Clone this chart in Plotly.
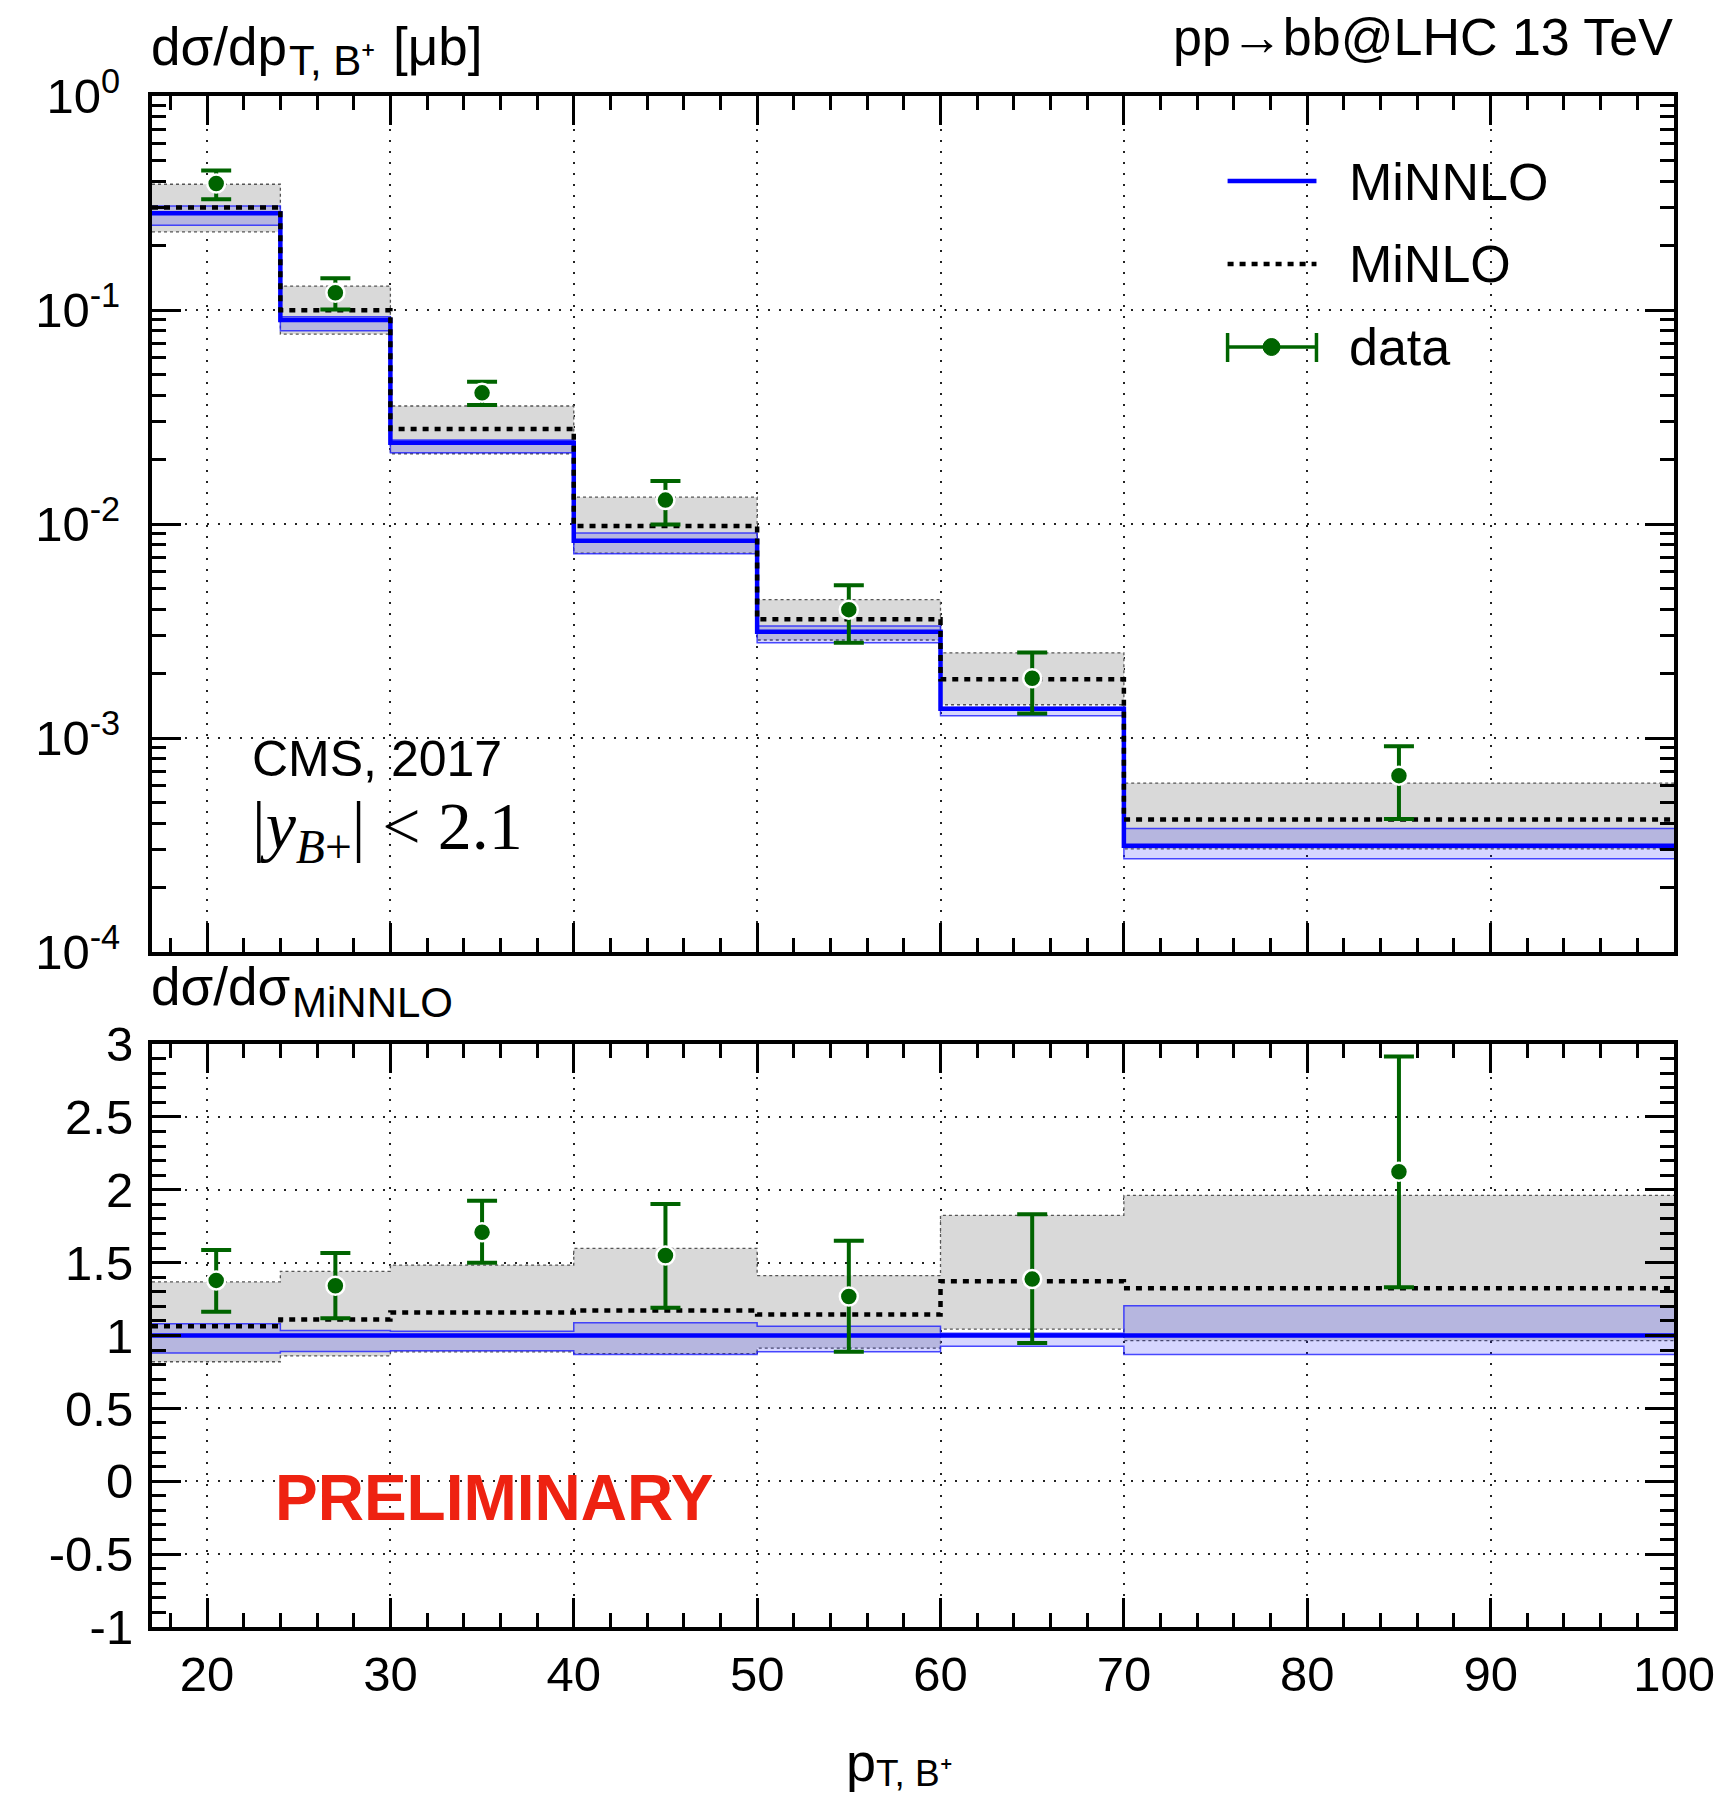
import plotly.graph_objects as go

# pT bins of the B+ meson [GeV]
bin_edges = [17, 24, 30, 40, 50, 60, 70, 100]
bin_centres = [20.5, 27, 35, 45, 55, 65, 85]

# MiNNLO prediction dσ/dpT [μb/GeV] and its uncertainty band
minnlo = [0.283, 0.0898, 0.0240, 0.00835, 0.00314, 0.00137, 0.000314]
minnlo_lo = [0.249, 0.0799, 0.0215, 0.00726, 0.00279, 0.00127, 0.000273]
minnlo_hi = [0.306, 0.0929, 0.0247, 0.00908, 0.00334, 0.00139, 0.000378]

# MiNLO prediction and its uncertainty band
minlo = [0.301, 0.0997, 0.0278, 0.00978, 0.00359, 0.00188, 0.000416]
minlo_lo = [0.232, 0.0772, 0.0213, 0.00731, 0.00287, 0.00143, 0.000303]
minlo_hi = [0.387, 0.1293, 0.0356, 0.01334, 0.00443, 0.00250, 0.000616]

# CMS 2017 measurement with total uncertainty
data = [0.390, 0.1205, 0.0410, 0.01293, 0.00398, 0.00190, 0.000667]
data_lo = [0.329, 0.1005, 0.0360, 0.00994, 0.00279, 0.00130, 0.000418]
data_hi = [0.449, 0.1406, 0.0462, 0.01588, 0.00518, 0.00251, 0.000915]

# axis ticks
x_ticks = [20, 30, 40, 50, 60, 70, 80, 90, 100]
y_log_ticks = [1e-4, 1e-3, 1e-2, 1e-1, 1]
y_log_text = ["10<sup>-4</sup>", "10<sup>-3</sup>", "10<sup>-2</sup>", "10<sup>-1</sup>", "10<sup>0</sup>"]
y_ratio_ticks = [-1, -0.5, 0, 0.5, 1, 1.5, 2, 2.5, 3]
y_ratio_text = ["-1", "-0.5", "0", "0.5", "1", "1.5", "2", "2.5", "3"]

FONT = "Liberation Sans, Arial, Helvetica, sans-serif"
SERIF = "Liberation Serif, Times New Roman, serif"
BLUE = "#0000ff"
GREEN = "#006400"
GREY_FILL = "#d9d9d9"
BLUE_FILL = "rgba(0,0,255,0.16)"

# page geometry (pixels) used to place free text in paper coordinates
W, H = 1727, 1801
PL, PR, PT, PB = 152, 1676, 96, 1627


def xp(px):
    return (px - PL) / (PR - PL)


def yp(py):
    return (PB - py) / (PB - PT)


def step(vals):
    return list(vals) + [vals[-1]]


def ratio(vals):
    return [v / m for v, m in zip(vals, minnlo)]


fig = go.Figure()


def add_panel(xa, ya, nnlo, nnlo_lo, nnlo_hi, nlo, nlo_lo, nlo_hi, dat, dat_lo, dat_hi):
    # MiNLO uncertainty band
    fig.add_trace(go.Scatter(x=bin_edges, y=step(nlo_hi), mode="lines", line_shape="hv",
                             line=dict(color="#555555", width=1.3, dash="3px,3px"),
                             xaxis=xa, yaxis=ya, hoverinfo="skip"))
    fig.add_trace(go.Scatter(x=bin_edges, y=step(nlo_lo), mode="lines", line_shape="hv",
                             line=dict(color="#555555", width=1.3, dash="3px,3px"),
                             fill="tonexty", fillcolor=GREY_FILL,
                             xaxis=xa, yaxis=ya, hoverinfo="skip"))
    # MiNNLO uncertainty band
    fig.add_trace(go.Scatter(x=bin_edges, y=step(nnlo_hi), mode="lines", line_shape="hv",
                             line=dict(color="rgba(30,30,255,0.8)", width=1.5),
                             xaxis=xa, yaxis=ya, hoverinfo="skip"))
    fig.add_trace(go.Scatter(x=bin_edges, y=step(nnlo_lo), mode="lines", line_shape="hv",
                             line=dict(color="rgba(30,30,255,0.8)", width=1.5),
                             fill="tonexty", fillcolor=BLUE_FILL,
                             xaxis=xa, yaxis=ya, hoverinfo="skip"))
    # central predictions
    fig.add_trace(go.Scatter(x=bin_edges, y=step(nnlo), mode="lines", line_shape="hv",
                             line=dict(color=BLUE, width=4.5),
                             xaxis=xa, yaxis=ya, name="MiNNLO"))
    fig.add_trace(go.Scatter(x=bin_edges, y=step(nlo), mode="lines", line_shape="hv",
                             line=dict(color="black", width=4.5, dash="6px,6px"),
                             xaxis=xa, yaxis=ya, name="MiNLO"))
    # measurement
    fig.add_trace(go.Scatter(
        x=bin_centres, y=dat, mode="markers", xaxis=xa, yaxis=ya, name="data",
        marker=dict(color=GREEN, size=18, symbol="circle", line=dict(color="white", width=2.5)),
        error_y=dict(type="data", symmetric=False,
                     array=[h - v for h, v in zip(dat_hi, dat)],
                     arrayminus=[v - l for l, v in zip(dat_lo, dat)],
                     color=GREEN, thickness=4, width=15)))


add_panel("x", "y", minnlo, minnlo_lo, minnlo_hi, minlo, minlo_lo, minlo_hi, data, data_lo, data_hi)
add_panel("x2", "y2", ratio(minnlo), ratio(minnlo_lo), ratio(minnlo_hi),
          ratio(minlo), ratio(minlo_lo), ratio(minlo_hi),
          ratio(data), ratio(data_lo), ratio(data_hi))

frame = dict(showline=True, linewidth=4, linecolor="black", mirror="allticks",
             ticks="inside", ticklen=29, tickwidth=3, tickcolor="black",
             showgrid=True, griddash="2px,9px", gridcolor="#222222", gridwidth=1.5,
             zeroline=False, layer="above traces",
             tickfont=dict(family=FONT, size=49, color="black"))

x_common = dict(frame, range=[17, 100], tickvals=x_ticks,
                minor=dict(tick0=0, dtick=2, ticks="inside", ticklen=14, tickwidth=3,
                           tickcolor="black", showgrid=False))

log_minor = [k * 10.0 ** e for e in range(-4, 0) for k in range(2, 10)]

fig.update_layout(
    width=W, height=H,
    margin=dict(l=PL, r=W - PR, t=PT, b=H - PB),
    paper_bgcolor="white", plot_bgcolor="white",
    showlegend=False,
    font=dict(family=FONT, color="black"),
    xaxis=dict(x_common, anchor="y", domain=[0, 1], showticklabels=False),
    yaxis=dict(frame, type="log", range=[-4, 0], domain=[(PB - 952) / (PB - PT), 1], anchor="x",
               tickvals=y_log_ticks, ticktext=y_log_text, ticklabelstandoff=18,
               minor=dict(tickvals=log_minor, ticks="inside", ticklen=14, tickwidth=3,
                          tickcolor="black", showgrid=False)),
    xaxis2=dict(x_common, anchor="y2", domain=[0, 1], ticklabelstandoff=1),
    yaxis2=dict(frame, range=[-1, 3], domain=[0, (PB - 1044) / (PB - PT)], anchor="x2",
                tickvals=y_ratio_ticks, ticktext=y_ratio_text, ticklabelstandoff=5,
                minor=dict(dtick=0.1, tick0=0, ticks="inside", ticklen=14, tickwidth=3,
                           tickcolor="black", showgrid=False)),
)


def label(text, x, y, size, xanchor="left", **font):
    return dict(text=text, x=xp(x), y=yp(y), xanchor=xanchor, yanchor="middle",
                xref="paper", yref="paper", showarrow=False,
                font=dict(size=size, **font))


annotations = [
    # upper panel axis title
    label("dσ/dp", 149, 46, 53),
    label("T, B⁺", 287, 60, 42),
    label("[μb]", 391, 46, 53),
    # process
    label("pp→bb@LHC 13 TeV", 1677, 37, 52, xanchor="right"),
    # ratio panel axis title
    label("dσ/dσ", 149, 986, 53),
    label("MiNNLO", 290, 1002, 42),
    # x axis title
    label("p", 845, 1762, 54),
    label("T, B⁺", 875, 1773, 37),
    # selection
    label("CMS, 2017", 377, 759, 50, xanchor="center"),
    label("|<i>y</i><sub><i>B</i>+</sub>| < 2.1", 388, 830, 68, xanchor="center", family=SERIF),
    label("<b>PRELIMINARY</b>", 495, 1498, 64, xanchor="center", color="#ee2211"),
    # legend entries
    label("MiNNLO", 1349, 182, 52),
    label("MiNLO", 1349, 264, 52),
    label("data", 1349, 347, 52),
]
fig.update_layout(annotations=annotations)

# legend keys
lx0, lx1 = xp(1229), xp(1318)
r = 8.5
shapes = [
    dict(type="line", x0=lx0, x1=lx1, y0=yp(181), y1=yp(181), line=dict(color=BLUE, width=4.5)),
    dict(type="line", x0=lx0, x1=lx1, y0=yp(264), y1=yp(264),
         line=dict(color="black", width=4.5, dash="6px,6px")),
    dict(type="line", x0=lx0, x1=lx1, y0=yp(347), y1=yp(347), line=dict(color=GREEN, width=3.5)),
    dict(type="line", x0=lx0, x1=lx0, y0=yp(333), y1=yp(362), line=dict(color=GREEN, width=3.5)),
    dict(type="line", x0=lx1, x1=lx1, y0=yp(333), y1=yp(362), line=dict(color=GREEN, width=3.5)),
    dict(type="circle", x0=xp(1273 - r), x1=xp(1273 + r), y0=yp(347 + r), y1=yp(347 - r),
         fillcolor=GREEN, line=dict(color=GREEN, width=1)),
]
for s in shapes:
    s.update(xref="paper", yref="paper", layer="above")
fig.update_layout(shapes=shapes)

fig.write_html("out.html")
